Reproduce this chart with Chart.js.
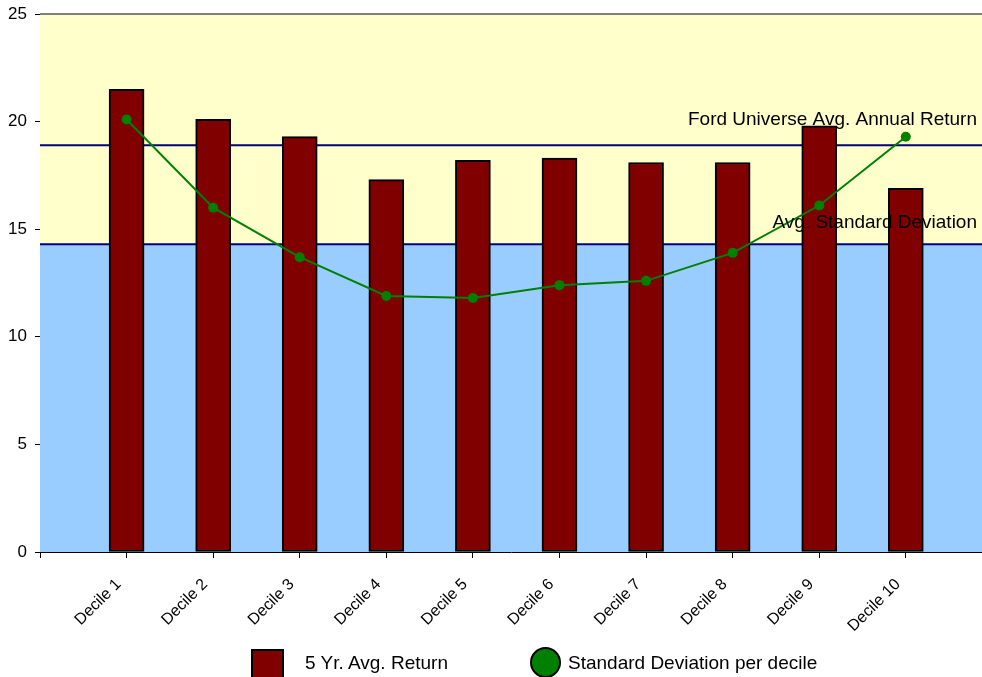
<!DOCTYPE html>
<html>
<head>
<meta charset="utf-8">
<script src="https://cdn.jsdelivr.net/npm/chart.js@4.4.1/dist/chart.umd.min.js"></script>
<style>
  body { margin: 0; background: #fff; font-family: "Liberation Sans", Arial, sans-serif; }
  #wrap { position: relative; width: 982px; height: 677px; overflow: hidden; }
  #legend .box { position: absolute; box-sizing: border-box; border: 2px solid #000; }
  #legend .txt { position: absolute; font-size: 19px; color: #000; line-height: 22px; white-space: nowrap; }
</style>
</head>
<body>
<div id="wrap">
  <canvas id="grafico" width="982" height="677"></canvas>
  <div id="legend">
    <div class="box" style="left:251px;top:649px;width:33px;height:33px;background:#800000"></div>
    <div class="txt" style="left:305px;top:652px">5 Yr. Avg. Return</div>
    <div class="box" style="left:530px;top:647px;width:31px;height:31px;border-radius:50%;background:#008000"></div>
    <div class="txt" style="left:568px;top:652px">Standard Deviation per decile</div>
  </div>
</div>
<script>
const decili = ["Decile 1", "Decile 2", "Decile 3", "Decile 4", "Decile 5",
                "Decile 6", "Decile 7", "Decile 8", "Decile 9", "Decile 10"];
const rendimenti = [21.5, 20.1, 19.3, 17.3, 18.2, 18.3, 18.1, 18.1, 19.8, 16.9];
const deviazioni = [20.1, 16.0, 13.7, 11.9, 11.8, 12.4, 12.6, 13.9, 16.1, 19.3];
const mediaRendimento = 18.9;   // Ford Universe Avg. Annual Return
const mediaDeviazione = 14.3;   // Avg. Standard Deviation

// bande di sfondo, linee di riferimento e testi
const sfondo = {
  id: "sfondo",
  beforeDatasetsDraw(chart) {
    const { ctx, chartArea: a, scales: { y } } = chart;
    const yDev = y.getPixelForValue(mediaDeviazione);
    const yRet = y.getPixelForValue(mediaRendimento);
    ctx.save();
    ctx.fillStyle = "#FFFFCC";
    ctx.fillRect(a.left, a.top, a.right - a.left, yDev - a.top);
    ctx.fillStyle = "#99CCFF";
    ctx.fillRect(a.left, yDev, a.right - a.left, a.bottom - yDev);
    ctx.strokeStyle = "#808080";
    ctx.lineWidth = 2;
    ctx.beginPath();
    ctx.moveTo(a.left, a.top);
    ctx.lineTo(a.right, a.top);
    ctx.stroke();
    ctx.strokeStyle = "#000080";
    ctx.lineWidth = 2;
    [yRet, yDev].forEach(function (py) {
      ctx.beginPath();
      ctx.moveTo(a.left, py);
      ctx.lineTo(a.right, py);
      ctx.stroke();
    });
    ctx.restore();
  },
  afterDatasetsDraw(chart) {
    const { ctx, scales: { y } } = chart;
    ctx.save();
    ctx.fillStyle = "#000";
    ctx.font = '19px "Liberation Sans", Arial, sans-serif';
    ctx.textAlign = "right";
    ctx.textBaseline = "alphabetic";
    ctx.fillText("Ford Universe Avg. Annual Return", 977, y.getPixelForValue(mediaRendimento) - 20);
    ctx.fillText("Avg. Standard Deviation", 977, y.getPixelForValue(mediaDeviazione) - 16);
    ctx.restore();
  }
};

const ctx = document.getElementById("grafico").getContext("2d");
new Chart(ctx, {
  type: "bar",
  data: {
    datasets: [
      {
        type: "line",
        label: "Standard Deviation per decile",
        data: deviazioni.map((v, i) => ({ x: i + 1, y: v })),
        borderColor: "#008000",
        backgroundColor: "#008000",
        borderWidth: 2,
        pointRadius: 5,
        pointBorderWidth: 0,
        tension: 0,
        order: 0
      },
      {
        label: "5 Yr. Avg. Return",
        data: rendimenti.map((v, i) => ({ x: i + 1, y: v })),
        backgroundColor: "#800000",
        borderColor: "#000",
        borderWidth: 2,
        borderSkipped: false,
        barThickness: 35,
        order: 1
      }
    ]
  },
  options: {
    responsive: false,
    animation: false,
    layout: { autoPadding: false, padding: { top: 14, right: 0, left: 0, bottom: 0 } },
    plugins: { legend: { display: false }, tooltip: { enabled: false } },
    scales: {
      x: {
        type: "linear",
        offset: false,
        min: 0,
        max: 10.88,
        afterFit: (s) => { s.height = 125; s.paddingRight = 0; s.paddingLeft = 0; },
        border: { display: true, color: "#000", width: 1 },
        grid: { offset: false, drawOnChartArea: false, drawTicks: true, tickLength: 6, color: "#000" },
        ticks: {
          stepSize: 1,
          includeBounds: false,
          autoSkip: false,
          minRotation: 45,
          maxRotation: 45,
          padding: 17,
          labelOffset: -8,
          color: "#000",
          font: { family: '"Liberation Sans", Arial, sans-serif', size: 16 },
          callback: (v) => decili[v - 1] || ""
        }
      },
      y: {
        min: 0,
        max: 25,
        afterFit: (s) => { s.width = 40; s.paddingTop = 0; s.paddingBottom = 0; },
        border: { display: true, color: "#000", width: 1 },
        grid: { drawOnChartArea: false, drawTicks: true, tickLength: 5, color: "#000" },
        ticks: {
          stepSize: 5,
          padding: 8,
          color: "#000",
          font: { family: '"Liberation Sans", Arial, sans-serif', size: 17 }
        }
      }
    }
  },
  plugins: [sfondo]
});
</script>
</body>
</html>
